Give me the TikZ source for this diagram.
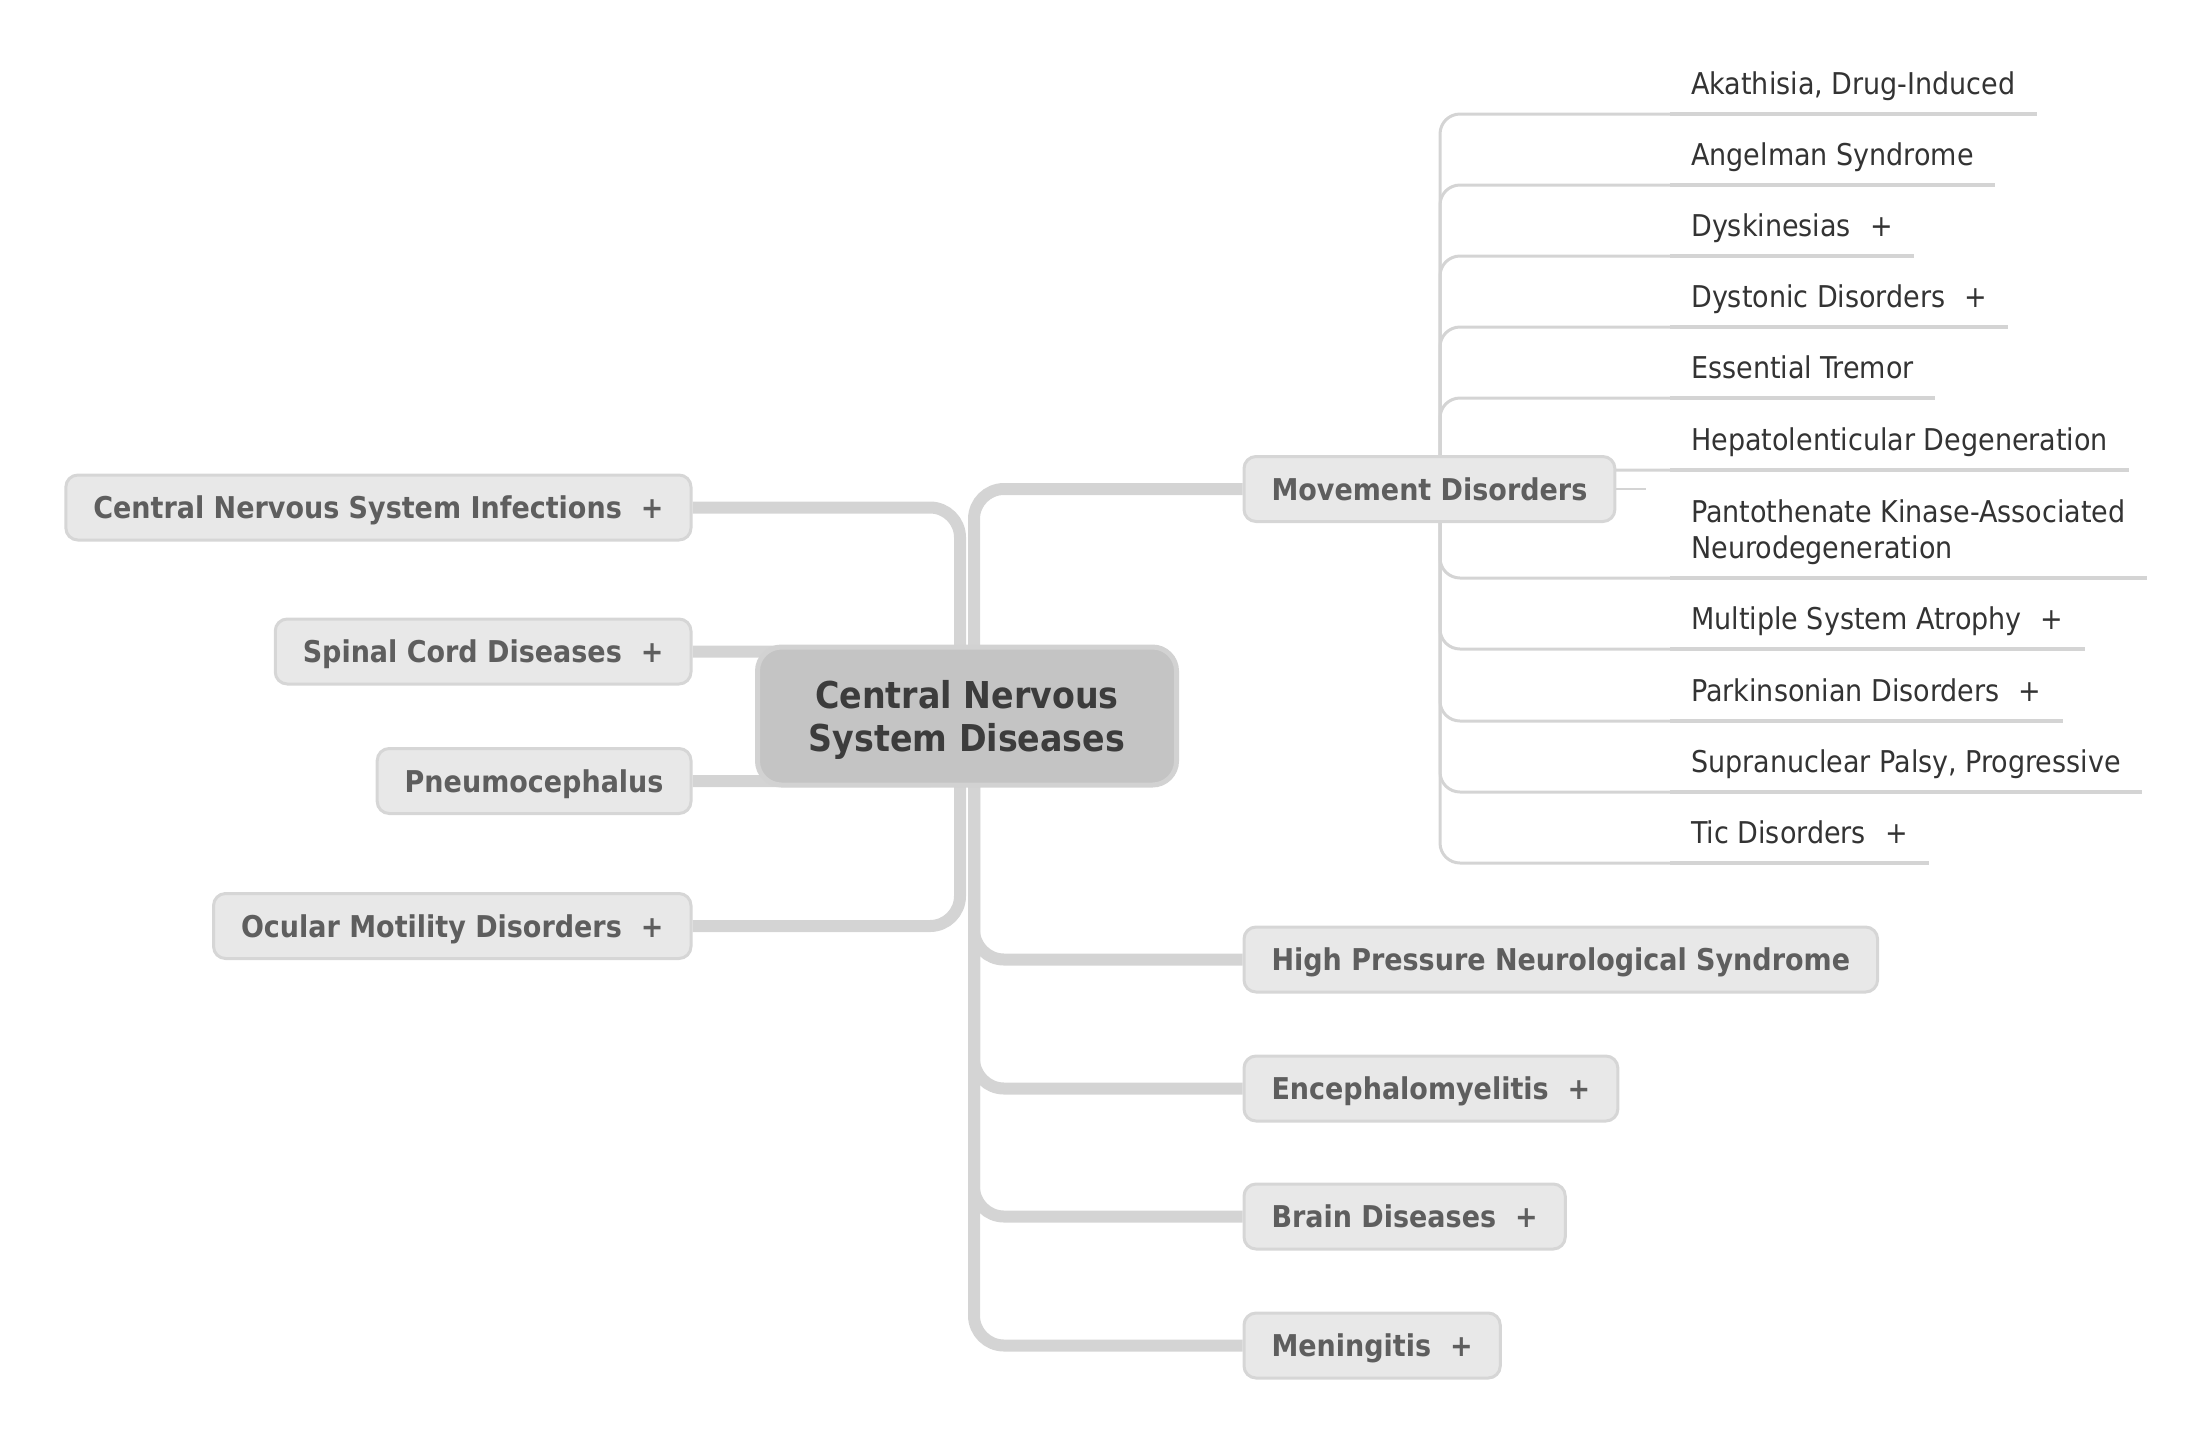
\documentclass[tikz,border=0pt]{standalone}
\usepackage{fontspec}
\IfFontExistsTF{DejaVu Sans Condensed}
  {\setmainfont{DejaVu Sans Condensed}}
  {\setmainfont{DejaVu Sans}[FakeStretch=0.9]}
\usetikzlibrary{backgrounds}
\begin{document}
\begin{tikzpicture}[x=1pt,y=-1pt]
\newcommand{\expandmark}{\hspace{19pt}+}
\definecolor{linecolor}{RGB}{212,212,212}
\definecolor{boxfill}{RGB}{232,232,232}
\definecolor{boxline}{RGB}{214,214,214}
\definecolor{boxtext}{RGB}{94,94,94}
\definecolor{rootfill}{RGB}{196,196,196}
\definecolor{rootline}{RGB}{210,210,210}
\definecolor{roottext}{RGB}{60,60,60}
\definecolor{leaftext}{RGB}{51,51,51}
\tikzstyle{root}=[draw=rootline,line width=5pt,fill=rootfill,rounded corners=24pt,text=roottext,font=\fontsize{37pt}{43pt}\selectfont\bfseries,align=center,minimum width=419pt,minimum height=138pt,text depth=0pt]
\tikzstyle{topic}=[draw=boxline,line width=3pt,fill=boxfill,rounded corners=12pt,text=boxtext,font=\fontsize{30pt}{36pt}\selectfont\bfseries,minimum height=65pt,inner xsep=27.5pt,inner ysep=0pt,text height=22pt,text depth=0pt]
\tikzstyle{leaf}=[anchor=south west,text=leaftext,font=\fontsize{30pt}{36pt}\selectfont,inner xsep=21pt,inner ysep=12pt,text depth=7pt,align=left]
\tikzstyle{branch}=[linecolor,line width=12pt,rounded corners=30pt]
\tikzstyle{twig}=[linecolor,line width=3pt,rounded corners=20pt]
\tikzstyle{underline}=[linecolor,line width=4.5pt]
\tikzstyle{stub}=[linecolor,line width=2pt]
\useasboundingbox (0,0) rectangle (2197,1436);
\node[root] (cns) at (967,716) {Central Nervous\\System Diseases};
\node[topic,anchor=east] (inf) at (692.5,507.5) {Central Nervous System Infections\expandmark};
\node[topic,anchor=east] (spinal) at (692.5,651.5) {Spinal Cord Diseases\expandmark};
\node[topic,anchor=east] (pneumo) at (692.5,781) {Pneumocephalus};
\node[topic,anchor=east] (ocular) at (692.5,926) {Ocular Motility Disorders\expandmark};
\node[topic,anchor=west] (md) at (1242.5,489) {Movement Disorders};
\node[topic,anchor=west] (hpns) at (1242.5,959.5) {High Pressure Neurological Syndrome};
\node[topic,anchor=west] (enc) at (1242.5,1088.5) {Encephalomyelitis\expandmark};
\node[topic,anchor=west] (brain) at (1242.5,1216.5) {Brain Diseases\expandmark};
\node[topic,anchor=west] (men) at (1242.5,1345.5) {Meningitis\expandmark};
\node[leaf] (l1) at (1670,114) {Akathisia, Drug-Induced};
\node[leaf] (l2) at (1670,185) {Angelman Syndrome};
\node[leaf] (l3) at (1670,256) {Dyskinesias\expandmark};
\node[leaf] (l4) at (1670,327) {Dystonic Disorders\expandmark};
\node[leaf] (l5) at (1670,398) {Essential Tremor};
\node[leaf] (l6) at (1670,470) {Hepatolenticular Degeneration};
\node[leaf] (l7) at (1670,578) {Pantothenate Kinase-Associated\\Neurodegeneration};
\node[leaf] (l8) at (1670,649) {Multiple System Atrophy\expandmark};
\node[leaf] (l9) at (1670,721) {Parkinsonian Disorders\expandmark};
\node[leaf] (l10) at (1670,792) {Supranuclear Palsy, Progressive};
\node[leaf] (l11) at (1670,863) {Tic Disorders\expandmark};
\coordinate (mdend) at (1646,489);
\begin{scope}[on background layer]
\draw[branch] ([xshift=-7pt]cns.center) |- (inf.east);
\draw[branch] ([xshift=-7pt]cns.center) |- (spinal.east);
\draw[branch] ([xshift=-7pt]cns.center) |- (pneumo.east);
\draw[branch] ([xshift=-7pt]cns.center) |- (ocular.east);
\draw[branch] ([xshift=7pt]cns.center) |- (md.west);
\draw[branch] ([xshift=7pt]cns.center) |- (hpns.west);
\draw[branch] ([xshift=7pt]cns.center) |- (enc.west);
\draw[branch] ([xshift=7pt]cns.center) |- (brain.west);
\draw[branch] ([xshift=7pt]cns.center) |- (men.west);
\draw[stub] (md.east) -- (mdend);
\draw[twig] ([xshift=197.5pt]md.west) |- (l1.south west);
\draw[twig] ([xshift=197.5pt]md.west) |- (l2.south west);
\draw[twig] ([xshift=197.5pt]md.west) |- (l3.south west);
\draw[twig] ([xshift=197.5pt]md.west) |- (l4.south west);
\draw[twig] ([xshift=197.5pt]md.west) |- (l5.south west);
\draw[twig] ([xshift=197.5pt]md.west) |- (l6.south west);
\draw[twig] ([xshift=197.5pt]md.west) |- (l7.south west);
\draw[twig] ([xshift=197.5pt]md.west) |- (l8.south west);
\draw[twig] ([xshift=197.5pt]md.west) |- (l9.south west);
\draw[twig] ([xshift=197.5pt]md.west) |- (l10.south west);
\draw[twig] ([xshift=197.5pt]md.west) |- (l11.south west);
\end{scope}
\draw[underline] (l1.south west) -- (l1.south east);
\draw[underline] (l2.south west) -- (l2.south east);
\draw[underline] (l3.south west) -- (l3.south east);
\draw[underline] (l4.south west) -- (l4.south east);
\draw[underline] (l5.south west) -- (l5.south east);
\draw[underline] (l6.south west) -- (l6.south east);
\draw[underline] (l7.south west) -- (l7.south east);
\draw[underline] (l8.south west) -- (l8.south east);
\draw[underline] (l9.south west) -- (l9.south east);
\draw[underline] (l10.south west) -- (l10.south east);
\draw[underline] (l11.south west) -- (l11.south east);
\end{tikzpicture}
\end{document}
